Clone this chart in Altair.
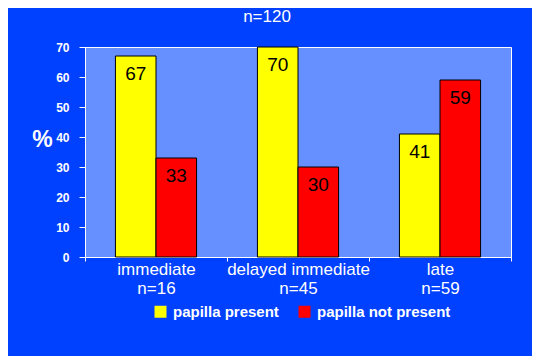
import altair as alt
import pandas as pd

categories = ["immediate", "delayed immediate", "late"]
group_n = ["n=16", "n=45", "n=59"]
series = ["papilla present", "papilla not present"]
present = [67, 70, 41]
not_present = [33, 30, 59]
colors = ["#FFFF00", "#FF0000"]
y_ticks = [0, 10, 20, 30, 40, 50, 60, 70]

labels = [c + "\n" + n for c, n in zip(categories, group_n)]
rows = []
for lab, p, q in zip(labels, present, not_present):
    rows.append({"group": lab, "series": series[0], "value": p})
    rows.append({"group": lab, "series": series[1], "value": q})
df = pd.DataFrame(rows)

FONT = "Liberation Sans"

base = alt.Chart(df).encode(
    x=alt.X(
        "group:N",
        sort=labels,
        scale=alt.Scale(paddingInner=0, paddingOuter=0),
        axis=alt.Axis(
            title=None,
            labelExpr="split(datum.label, '\\n')",
            labelAngle=0,
            labelColor="white",
            labelFont=FONT,
            labelFontSize=17,
            labelLineHeight=19,
            labelPadding=0,
            tickBand="extent",
            tickSize=4,
            tickColor="white",
            domainColor="white",
            grid=False,
        ),
    ),
    xOffset=alt.XOffset(
        "series:N", sort=series, scale=alt.Scale(paddingOuter=0.75, paddingInner=0)
    ),
    y=alt.Y(
        "value:Q",
        scale=alt.Scale(domain=[0, 70], nice=False),
        axis=alt.Axis(
            values=y_ticks,
            title="%",
            titleAngle=0,
            titleX=-43,
            titleY=92,
            titleAlign="center",
            titleBaseline="middle",
            titleFont=FONT,
            titleFontSize=23,
            titleFontWeight="bold",
            titleColor="white",
            labelColor="white",
            labelFont=FONT,
            labelFontSize=12,
            labelFontWeight="bold",
            labelPadding=10,
            tickSize=6,
            tickColor="white",
            domainColor="white",
            grid=False,
        ),
    ),
)

bars = base.mark_bar(stroke="black", strokeWidth=1).encode(
    color=alt.Color(
        "series:N",
        sort=series,
        scale=alt.Scale(domain=series, range=colors),
        legend=alt.Legend(
            title=None,
            orient="none",
            legendX=68,
            legendY=257,
            direction="horizontal",
            symbolType="square",
            symbolSize=144,
            symbolStrokeWidth=0,
            symbolOpacity=1,
            labelColor="white",
            labelFont=FONT,
            labelFontSize=15,
            labelFontWeight="bold",
            labelOffset=5,
            columnPadding=18,
            padding=0,
        ),
    )
)

text = base.mark_text(baseline="middle", dy=18, fontSize=19, font=FONT, color="black").encode(
    text="value:Q"
)

chart = (
    alt.layer(bars, text)
    .properties(
        width=426,
        height=210,
        padding={"left": 77, "top": 39, "right": 21, "bottom": 99},
        autosize=alt.AutoSizeParams(type="none"),
        background="#0040FF",
        title=alt.TitleParams(
            text="n=120",
            color="white",
            font=FONT,
            fontSize=17,
            fontWeight="normal",
            anchor="middle",
            dx=-31,
            offset=15,
        ),
    )
    .configure_view(fill="#6690FF", stroke="white", strokeWidth=1)
)

chart.save("out.html", embed_options={"renderer": "svg", "actions": False})
